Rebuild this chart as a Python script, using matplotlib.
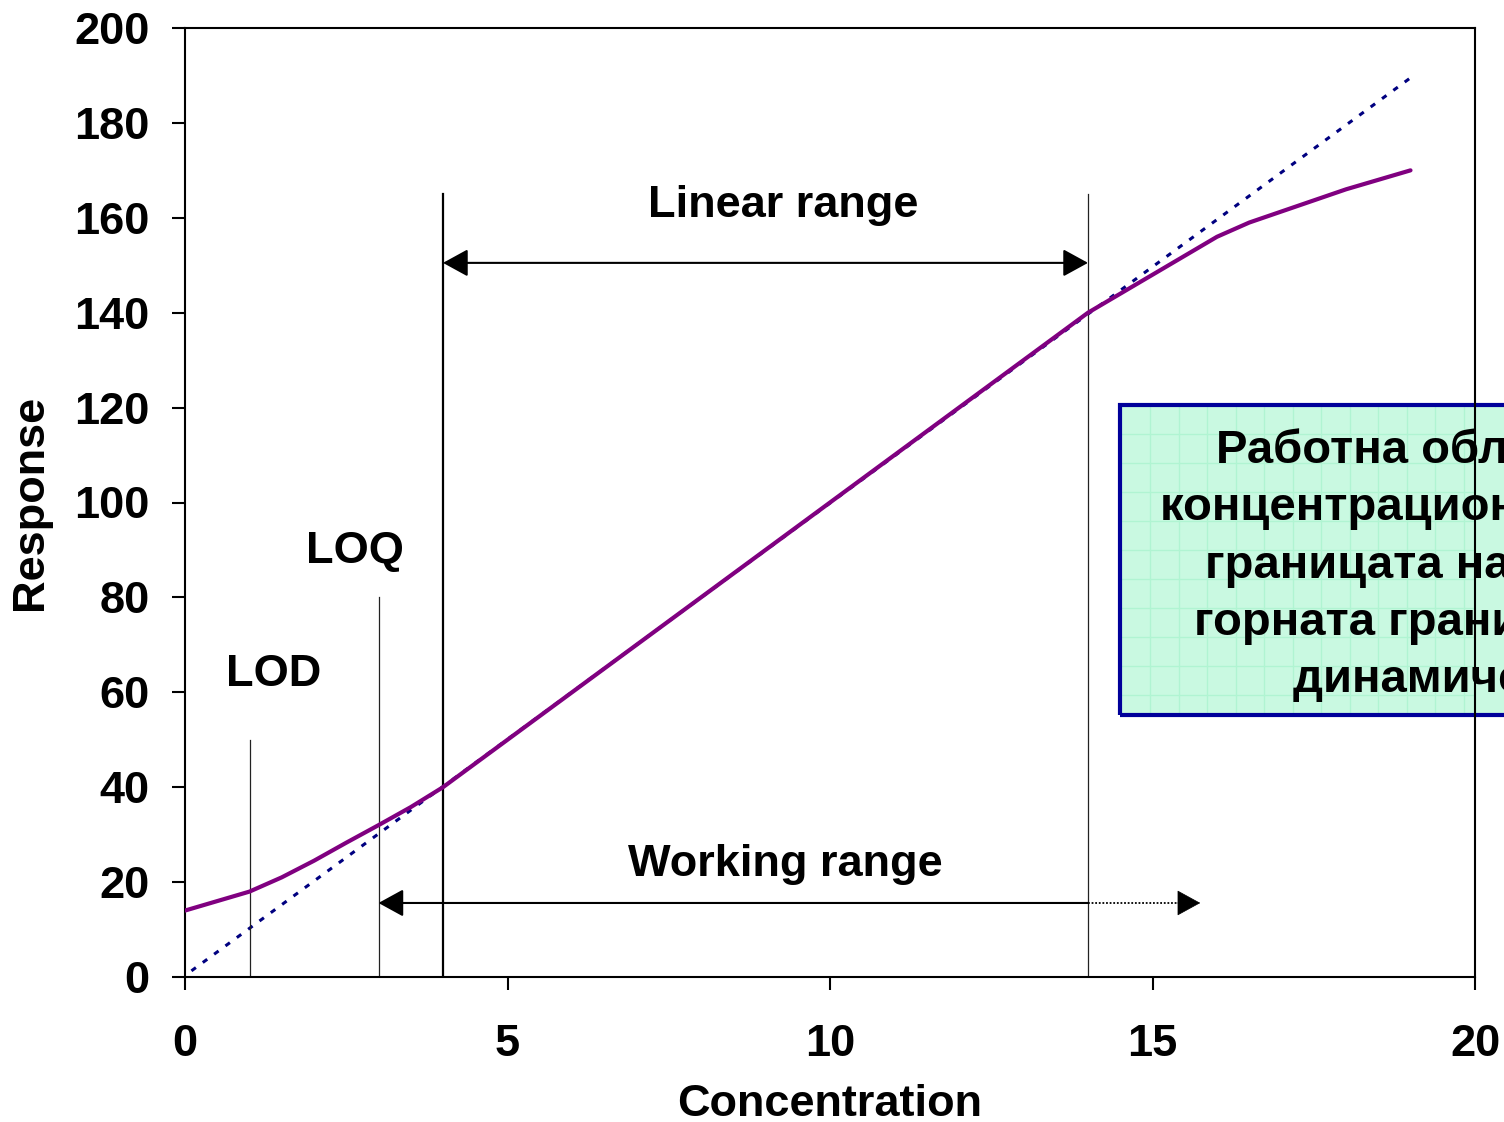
import matplotlib
matplotlib.use("Agg")
import matplotlib.pyplot as plt
from matplotlib.patches import Rectangle, FancyArrowPatch
from matplotlib.lines import Line2D

plt.rcParams["font.family"] = ["Liberation Sans", "DejaVu Sans"]
plt.rcParams["font.weight"] = "bold"

# measured response curve
conc = [0, 1, 1.5, 2, 2.5, 3, 3.5, 4, 5, 6, 7, 8, 9, 10, 11, 12, 13, 14, 15, 16, 16.5, 18, 19]
resp = [14, 18, 21, 24.5, 28.3, 32, 35.8, 40, 50, 60, 70, 80, 90, 100, 110, 120, 130, 140, 148, 156, 159, 166, 170]
# ideal linear trend (dotted)
trend_x = [0.1, 19.0]
trend_y = [1.3, 189.5]
# limits
lod_x, lod_top = 1, 50
loq_x, loq_top = 3, 80
lin_lo, lin_hi, lin_top = 4, 14, 165
lin_arrow_y = 150.5
work_lo, work_solid_hi, work_hi, work_arrow_y = 3, 14, 15.74, 15.6

xticks = [0, 5, 10, 15, 20]
yticks = list(range(0, 201, 20))

box_lines = ["Работна област –",
             "концентрационният обхват между",
             "границата на определяне и",
             "горната граница на линейния",
             "динамичен обхват"]
box_left_px = [1216, 1160, 1205, 1194, 1293]
box_base_px = [463, 520, 578, 635, 692]

W, H = 1504, 1122
fig = plt.figure(figsize=(W / 100, H / 100), dpi=100)
ax = fig.add_axes([185 / W, 1 - 977 / H, 1290 / W, 949 / H])

ax.plot(trend_x, trend_y, color="#000080", lw=2.2, ls=(0, (1.8, 2.8)), zorder=2)
ax.plot(conc, resp, color="#800080", lw=3.0, zorder=3, solid_capstyle="round")

ax.plot([lod_x, lod_x], [0, lod_top], color="#222222", lw=0.9)
ax.plot([loq_x, loq_x], [0, loq_top], color="#222222", lw=0.9)
ax.plot([lin_lo, lin_lo], [0, lin_top], color="black", lw=1.6)
ax.plot([lin_hi, lin_hi], [0, lin_top], color="#222222", lw=0.9)

head = "head_length=15.5,head_width=8.5"
ax.add_patch(FancyArrowPatch((lin_lo, lin_arrow_y), (lin_hi, lin_arrow_y), arrowstyle="<|-|>," + head,
                             mutation_scale=1, shrinkA=0, shrinkB=0, lw=1.5, color="black", zorder=4))
ax.add_patch(FancyArrowPatch((work_solid_hi, work_arrow_y), (work_lo, work_arrow_y), arrowstyle="-|>," + head,
                             mutation_scale=1, shrinkA=0, shrinkB=0, lw=1.5, color="black", zorder=4))
ax.plot([work_solid_hi, work_hi - 0.3], [work_arrow_y, work_arrow_y], color="black", lw=1.3, ls=(0, (1, 1)))
ax.add_patch(FancyArrowPatch((work_hi - 0.35, work_arrow_y), (work_hi, work_arrow_y), arrowstyle="-|>," + head,
                             mutation_scale=1, shrinkA=0, shrinkB=0, lw=0.5, color="black", zorder=4))

fs = 32.5
ax.text(1.38, 61.3, "LOD", ha="center", va="baseline", fontsize=fs)
ax.text(2.64, 87.2, "LOQ", ha="center", va="baseline", fontsize=fs)
ax.text(9.28, 160.2, "Linear range", ha="center", va="baseline", fontsize=fs)
ax.text(9.30, 21.3, "Working range", ha="center", va="baseline", fontsize=fs)

# green note box (runs off the right edge)
bx0, by0 = 1120 / W, 1 - 715 / H
bw, bh = (W + 20 - 1120) / W, 310 / H
fill = Rectangle((bx0, by0), bw, bh, transform=fig.transFigure,
                 facecolor="#c9f9e1", edgecolor="none", clip_on=False, zorder=2.1)
ax.add_patch(fill)
gx = 1150
while gx < W:
    ln = Line2D([gx / W, gx / W], [by0, by0 + bh], transform=fig.transFigure, color="#b0f4d2", lw=1, zorder=2.12)
    ln.set_clip_path(fill)
    ax.add_line(ln)
    gx += 28.5
gy = 434
while gy < 715:
    ln = Line2D([bx0, 1.0], [1 - gy / H, 1 - gy / H], transform=fig.transFigure, color="#b0f4d2", lw=1, zorder=2.12)
    ln.set_clip_path(fill)
    ax.add_line(ln)
    gy += 29
ax.add_patch(Rectangle((bx0, by0), bw, bh, transform=fig.transFigure,
                       facecolor="none", edgecolor="#00009a", lw=3, clip_on=False, zorder=2.15))
for txt, lx, by in zip(box_lines, box_left_px, box_base_px):
    ax.text(lx / W, 1 - by / H, txt, transform=fig.transFigure, ha="left", va="baseline",
            fontsize=34, clip_on=False, zorder=2.2)

ax.set_xlim(0, 20)
ax.set_ylim(0, 200)
ax.set_xticks(xticks)
ax.set_yticks(yticks)
ax.tick_params(direction="out", length=9.5, width=1.5, labelsize=fs)
ax.tick_params(axis="x", pad=24)
ax.tick_params(axis="y", pad=16)
for s in ax.spines.values():
    s.set_linewidth(1.5)

ax.set_xlabel("Concentration", fontsize=fs, fontweight="bold")
ax.set_ylabel("Response", fontsize=fs, fontweight="bold")
ax.xaxis.label.set_va("center")
ax.xaxis.set_label_coords(0.5, -(1104 - 977) / 949)
ax.yaxis.label.set_va("center")
ax.yaxis.set_label_coords(-(185 - 31) / 1290, 0.5)

fig.savefig("out.png", dpi=100)
